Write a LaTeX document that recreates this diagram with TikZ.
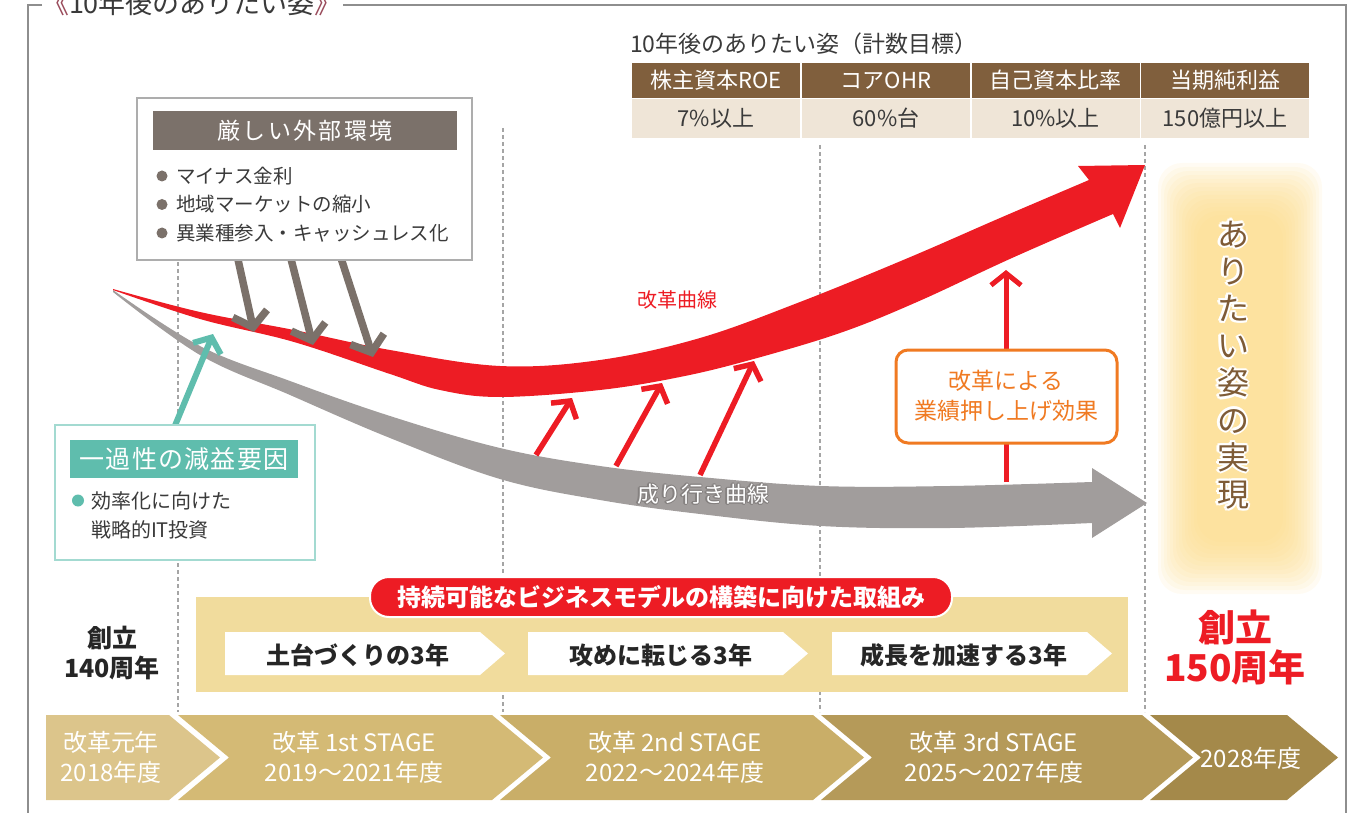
\documentclass[tikz,border=0pt]{standalone}
\usepackage{fontspec}
\setmainfont{Noto Sans CJK JP}
\usetikzlibrary{arrows.meta}
\definecolor{redc}{HTML}{ED1C24}
\definecolor{grayc}{HTML}{A19D9C}
\definecolor{brgray}{HTML}{7B716A}
\definecolor{tealc}{HTML}{5FBDAD}
\definecolor{teallt}{HTML}{A3DAD1}
\definecolor{brown1}{HTML}{805F3D}
\definecolor{beige}{HTML}{EFE5D7}
\definecolor{bandc}{HTML}{F1DC9D}
\definecolor{orangec}{HTML}{F07A22}
\definecolor{textc}{HTML}{3A3A3A}
\definecolor{maroon1}{HTML}{9A4C5C}
\definecolor{framec}{HTML}{8E8E8E}
\definecolor{boxc}{HTML}{ADADAD}
\definecolor{dashc}{HTML}{A5A5A5}
\definecolor{st0}{HTML}{DCC58B}
\definecolor{st1}{HTML}{D4BA75}
\definecolor{st2}{HTML}{C9AE68}
\definecolor{st3}{HTML}{B59A59}
\definecolor{st4}{HTML}{A4894A}
\definecolor{glowc}{HTML}{FCD87F}
\definecolor{vtext}{HTML}{7E5B36}
\definecolor{outl}{HTML}{858180}
\newcommand\fsz[2]{\fontsize{#1pt}{#2pt}\selectfont}
\begin{document}
\begin{tikzpicture}[x=1pt,y=-1pt,
  dashline/.style={draw=dashc, line width=1.1pt, dash pattern=on 4pt off 3pt},
  brarrow/.style={draw=brgray, line width=7.5pt, -{Straight Barb[length=14pt,width=35pt]}},
  redarrow/.style={draw=redc, line width=5.5pt, -{Straight Barb[length=12pt,width=30pt]}},
  tealarrow/.style={draw=tealc, line width=6pt, -{Straight Barb[length=12pt,width=30pt]}},
  plain/.style={inner sep=0pt, outer sep=0pt},
  hdr/.style={plain, fill=brown1, text=white, minimum width=168pt, minimum height=35pt, font=\fsz{22}{24}},
  val/.style={plain, fill=beige, text=textc, minimum width=168pt, minimum height=39pt, font=\fsz{22}{24}},
  bullettxt/.style={plain, anchor=west, text=textc, font=\fsz{19.5}{24}},
  stagetxt/.style={plain, text=white, align=center, font=\fsz{24}{30}},
  steptxt/.style={plain, text=black!85, font=\bfseries\fsz{24}{26}},
  vstack/.style={plain, align=center, font=\fsz{32}{37.2}},
  graytxt/.style={plain, font=\fsz{22}{24}},
]
\useasboundingbox (0,0) rectangle (1358,813);
\clip (0,0) rectangle (1358,813);

% frame
\draw[framec, line width=1.3pt] (42,5) -- (28,5) -- (28,813);
\draw[framec, line width=1.3pt] (343,5) -- (1346,5) -- (1346,813);
\node[plain, anchor=west, font=\fsz{27}{30}] (title) at (42,3)
  {\textcolor{maroon1}{《}\textcolor{textc}{10年後のありたい姿}\textcolor{maroon1}{》}};

% dashed guides
\draw[dashline] (178,262) -- (178,712);
\draw[dashline] (503,128) -- (503,712);
\draw[dashline] (820,145) -- (820,712);
\draw[dashline] (1145,145) -- (1145,712);

% table
\node[plain, anchor=west, text=textc, font=\fsz{23}{26}] (ttitle) at (630,44) {10年後のありたい姿（計数目標）};
\node[hdr] (h1) at (716,80.5) {株主資本ROE};
\node[hdr] (h2) at (886,80.5) {コアOHR};
\node[hdr] (h3) at (1055.5,80.5) {自己資本比率};
\node[hdr] (h4) at (1225,80.5) {当期純利益};
\node[val] (v1) at (716,118.5) {7\%以上};
\node[val] (v2) at (886,118.5) {60\%台};
\node[val] (v3) at (1055.5,118.5) {10\%以上};
\node[val] (v4) at (1225,118.5) {150億円以上};

% glow
\foreach \i in {0,...,13}
  \fill[glowc, opacity=0.095, rounded corners=24pt] (1158+\i*3,163+\i*4) rectangle (1322-\i*3,594-\i*4);

% gray curve
\fill[grayc] plot[smooth, tension=0.6] coordinates {(113,290) (200,346) (290,381) (390,416) (500,448) (600,466) (700,477) (821,486) (950,486) (1092,482)}
  -- (1092,468) -- (1147,503) -- (1092,538) -- (1092,523)
  -- plot[smooth, tension=0.6] coordinates {(1092,523) (950,528) (821,526) (700,514) (600,500) (500,479) (390,438) (290,395) (200,355) (113,292)} -- cycle;

% red curve
\fill[redc] plot[smooth, tension=0.6] coordinates {(113,289) (200,312) (294,330) (390,350) (500,366) (600,360) (700,338) (800,302) (908,258) (1000,218) (1089,180)}
  -- (1078,166) -- (1145,165) -- (1120,228) -- (1113,214)
  -- plot[smooth, tension=0.6] coordinates {(1113,214) (1012,258) (917,302) (840,333) (750,360) (680,377) (600,390) (500,397) (440,390) (390,374) (294,342) (200,319) (113,290)} -- cycle;

\node[plain, text=redc, font=\fsz{20}{24}] (redlbl) at (677,300) {改革曲線};
\foreach \dx/\dy [count=\k] in {1.1/0,-1.1/0,0/1.1,0/-1.1,0.8/0.8,-0.8/0.8,0.8/-0.8,-0.8/-0.8}
  \node[graytxt, text=outl] (gh\k) at (703+\dx,494+\dy) {成り行き曲線};
\node[graytxt, text=white] (graylbl) at (703,494) {成り行き曲線};

% red push arrows
\coordinate (r1s) at (536,455); \coordinate (r1e) at (572,398);
\coordinate (r2s) at (616,466); \coordinate (r2e) at (662,383);
\coordinate (r3s) at (700,475); \coordinate (r3e) at (754,361);
\draw[redarrow] (r1s) -- (r1e);
\draw[redarrow] (r2s) -- (r2e);
\draw[redarrow] (r3s) -- (r3e);

% vertical red arrow + orange box
\coordinate (vs) at (1006,482); \coordinate (ve) at (1006,270);
\draw[redarrow, line width=5pt] (vs) -- (ve);
\node[plain, draw=orangec, line width=3pt, fill=white, rounded corners=12pt, minimum width=221pt, minimum height=93pt] (obox) at (1006.5,396.5) {};
\node[plain, text=orangec, align=center, font=\fsz{23}{30}] (otxt) at (1006,396) {改革による\\業績押し上げ効果};

% external environment arrows + box
\coordinate (g1s) at (237,255); \coordinate (g1e) at (254,332);
\coordinate (g2s) at (290,255); \coordinate (g2e) at (313,345);
\coordinate (g3s) at (340,255); \coordinate (g3e) at (373,357);
\draw[brarrow] (g1s) -- (g1e);
\draw[brarrow] (g2s) -- (g2e);
\draw[brarrow] (g3s) -- (g3e);
\node[plain, draw=boxc, line width=1.2pt, fill=white, minimum width=335pt, minimum height=162pt] (envbox) at (304.5,179) {};
\node[plain, fill=brgray, text=white, minimum width=304pt, minimum height=39pt, font=\fsz{23}{26}\addfontfeature{LetterSpace=10}] (envhdr) at (305,130.5) {厳しい外部環境};
\fill[brgray] (162,176) circle (5.5);
\fill[brgray] (162,204.5) circle (5.5);
\fill[brgray] (162,233) circle (5.5);
\node[bullettxt] (e1) at (176,176) {マイナス金利};
\node[bullettxt] (e2) at (176,204.5) {地域マーケットの縮小};
\node[bullettxt] (e3) at (176,233) {異業種参入・キャッシュレス化};

% teal arrow + box
\coordinate (ts) at (174,428); \coordinate (te) at (213,334);
\draw[tealarrow] (ts) -- (te);
\node[plain, draw=teallt, line width=1.5pt, fill=white, minimum width=260pt, minimum height=135pt] (tbox) at (185,492.5) {};
\node[plain, fill=tealc, text=white, minimum width=228pt, minimum height=38pt, font=\fsz{25}{28}\addfontfeature{LetterSpace=5}] (thdr) at (184,459) {一過性の減益要因};
\fill[tealc] (78,500.5) circle (6);
\node[bullettxt, font=\fsz{20}{24}] (t1) at (91,500.5) {効率化に向けた};
\node[bullettxt, font=\fsz{20}{24}] (t2) at (91,530) {戦略的IT投資};

% right side vertical text with white halo
\foreach \dx/\dy [count=\k] in {2.2/0,-2.2/0,0/2.2,0/-2.2,1.6/1.6,-1.6/1.6,1.6/-1.6,-1.6/-1.6}
  \node[vstack, text=white] (vh\k) at (1233+\dx,365+\dy) {あ\\り\\た\\い\\姿\\の\\実\\現};
\node[vstack, text=vtext] (vmain) at (1233,365) {あ\\り\\た\\い\\姿\\の\\実\\現};

\node[plain, text=redc, align=center, font=\bfseries\fsz{37}{40}] (f150) at (1235,648) {創立\\150周年};
\node[plain, text=black!85, align=center, font=\bfseries\fsz{25}{30}] (f140) at (112,653) {創立\\140周年};

% band with steps
\node[plain, fill=bandc, minimum width=932pt, minimum height=95pt] (band) at (662,644.5) {};
\node[plain, fill=redc, draw=white, line width=2pt, rounded corners=19pt, minimum width=582pt, minimum height=40pt, text=white, font=\bfseries\fsz{24}{26}] (pill) at (661,597) {持続可能なビジネスモデルの構築に向けた取組み};
\fill[white] (225,632) -- (480,632) -- (505,653.5) -- (480,675) -- (225,675) -- cycle;
\fill[white] (528,632) -- (783,632) -- (808,653.5) -- (783,675) -- (528,675) -- cycle;
\fill[white] (832,632) -- (1087,632) -- (1112,653.5) -- (1087,675) -- (832,675) -- cycle;
\node[steptxt] (p1) at (358,655) {土台づくりの3年};
\node[steptxt] (p2) at (661,655) {攻めに転じる3年};
\node[steptxt] (p3) at (964,655) {成長を加速する3年};

% stages
\fill[st0] (46,715) -- (169,715) -- (220,757.5) -- (169,800) -- (46,800) -- cycle;
\fill[st1] (178,715) -- (492,715) -- (543,757.5) -- (492,800) -- (178,800) -- (229,757.5) -- cycle;
\fill[st2] (500,715) -- (813,715) -- (864,757.5) -- (813,800) -- (500,800) -- (551,757.5) -- cycle;
\fill[st3] (821,715) -- (1142,715) -- (1193,757.5) -- (1142,800) -- (821,800) -- (872,757.5) -- cycle;
\fill[st4] (1150,715) -- (1287,715) -- (1338,757.5) -- (1287,800) -- (1150,800) -- (1201,757.5) -- cycle;
\node[stagetxt] (s0) at (111,757) {改革元年\\2018年度};
\node[stagetxt] (s1) at (354,757) {改革 1st STAGE\\2019〜2021年度};
\node[stagetxt] (s2) at (675,757) {改革 2nd STAGE\\2022〜2024年度};
\node[stagetxt] (s3) at (994,757) {改革 3rd STAGE\\2025〜2027年度};
\node[stagetxt] (s4) at (1251,758) {2028年度};
\end{tikzpicture}
\end{document}
